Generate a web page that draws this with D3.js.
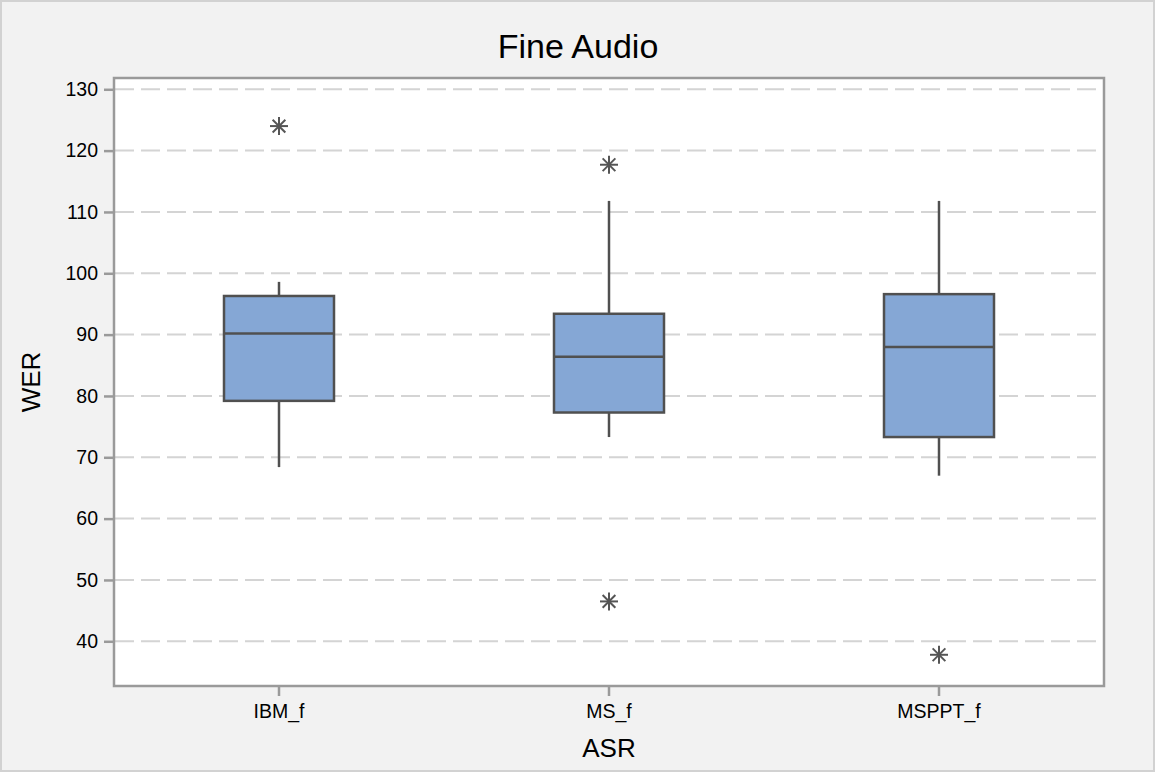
<!DOCTYPE html>
<html>
<head>
<meta charset="utf-8">
<script src="https://cdn.jsdelivr.net/npm/d3@7"></script>
<style>
  html, body { margin: 0; padding: 0; background: #ffffff; }
  svg { display: block; }
  text { font-family: "Liberation Sans", Arial, Helvetica, sans-serif; fill: #000; }
</style>
</head>
<body>
<svg id="chart" width="1156" height="778"></svg>
<script>
// ---- data ----
const categories = ["IBM_f", "MS_f", "MSPPT_f"];
const q1 = [79.2, 77.3, 73.3];
const medians = [90.2, 86.4, 88.0];
const q3 = [96.3, 93.4, 96.6];
const whiskerLow = [68.4, 73.3, 67.0];
const whiskerHigh = [98.6, 111.8, 111.8];
const outliers = [[124.0], [117.7, 46.5], [37.8]];
const yTicks = [40, 50, 60, 70, 80, 90, 100, 110, 120, 130];
const titleText = "Fine Audio";
const xTitle = "ASR";
const yTitle = "WER";

// ---- layout ----
const W = 1156, H = 778;
const plot = { left: 114, right: 1104, top: 78, bottom: 686 };
const svg = d3.select("#chart");

// background panel
svg.append("rect")
  .attr("x", 1).attr("y", 1).attr("width", 1153).attr("height", 770)
  .attr("fill", "#f2f2f2").attr("stroke", "#d2d2d2").attr("stroke-width", 2);

const x = d3.scaleBand().domain(categories).range([plot.left, plot.right]).padding(0);
const y = d3.scaleLinear().domain([32.71, 131.84]).range([plot.bottom, plot.top]);

// plot area
svg.append("rect")
  .attr("x", plot.left).attr("y", plot.top)
  .attr("width", plot.right - plot.left).attr("height", plot.bottom - plot.top)
  .attr("fill", "#ffffff");

// grid lines
svg.append("g").selectAll("line").data(yTicks).join("line")
  .attr("x1", plot.left + 1).attr("x2", plot.right - 1)
  .attr("y1", d => y(d)).attr("y2", d => y(d))
  .attr("stroke", "#d4d4d4").attr("stroke-width", 2)
  .attr("stroke-dasharray", "19,7");

// y axis
const yAxis = d3.axisLeft(y).tickValues(yTicks).tickSize(10).tickPadding(6);
const gy = svg.append("g").attr("transform", `translate(${plot.left},0)`).call(yAxis);
gy.select(".domain").remove();
gy.selectAll(".tick line").attr("stroke", "#9a9a9a").attr("stroke-width", 2.5);
gy.selectAll(".tick text").attr("font-size", 19.5).attr("fill", "#000")
  .attr("font-family", "Liberation Sans, Arial, sans-serif");

// x axis
const xAxis = d3.axisBottom(x).tickSize(10).tickPadding(8);
const gx = svg.append("g").attr("transform", `translate(0,${plot.bottom})`).call(xAxis);
gx.select(".domain").remove();
gx.selectAll(".tick line").attr("stroke", "#9a9a9a").attr("stroke-width", 2.5);
gx.selectAll(".tick text").attr("font-size", 19.5).attr("fill", "#000")
  .attr("font-family", "Liberation Sans, Arial, sans-serif");

// frame
svg.append("rect")
  .attr("x", plot.left).attr("y", plot.top)
  .attr("width", plot.right - plot.left).attr("height", plot.bottom - plot.top)
  .attr("fill", "none").attr("stroke", "#9a9a9a").attr("stroke-width", 2.5);

// boxes
const boxW = x.bandwidth() / 3;
const stroke = "#505050";
const g = svg.append("g");
categories.forEach((c, i) => {
  const cx = x(c) + x.bandwidth() / 2;
  // whiskers
  g.append("line").attr("x1", cx).attr("x2", cx)
    .attr("y1", y(q3[i])).attr("y2", y(whiskerHigh[i]))
    .attr("stroke", stroke).attr("stroke-width", 2.5);
  g.append("line").attr("x1", cx).attr("x2", cx)
    .attr("y1", y(q1[i])).attr("y2", y(whiskerLow[i]))
    .attr("stroke", stroke).attr("stroke-width", 2.5);
  // box
  g.append("rect")
    .attr("x", cx - boxW / 2).attr("y", y(q3[i]))
    .attr("width", boxW).attr("height", y(q1[i]) - y(q3[i]))
    .attr("fill", "#85a7d5").attr("stroke", stroke).attr("stroke-width", 2.5);
  // median
  g.append("line").attr("x1", cx - boxW / 2).attr("x2", cx + boxW / 2)
    .attr("y1", y(medians[i])).attr("y2", y(medians[i]))
    .attr("stroke", stroke).attr("stroke-width", 2.5);
  // outliers (asterisks)
  outliers[i].forEach(v => {
    const oy = y(v), r = 9;
    const star = g.append("g").attr("transform", `translate(${cx},${oy})`)
      .attr("stroke", "#555555").attr("stroke-width", 2);
    [0, 45, 90, 135].forEach(a => {
      const rad = a * Math.PI / 180;
      star.append("line")
        .attr("x1", -r * Math.cos(rad)).attr("y1", -r * Math.sin(rad))
        .attr("x2", r * Math.cos(rad)).attr("y2", r * Math.sin(rad));
    });
  });
});

// titles
svg.append("text").attr("x", W / 2).attr("y", 58)
  .attr("text-anchor", "middle").attr("font-size", 34).text(titleText);
svg.append("text").attr("x", (plot.left + plot.right) / 2).attr("y", 757)
  .attr("text-anchor", "middle").attr("font-size", 26).text(xTitle);
svg.append("text")
  .attr("transform", `translate(40,${(plot.top + plot.bottom) / 2}) rotate(-90)`)
  .attr("text-anchor", "middle").attr("font-size", 26).text(yTitle);
</script>
</body>
</html>
